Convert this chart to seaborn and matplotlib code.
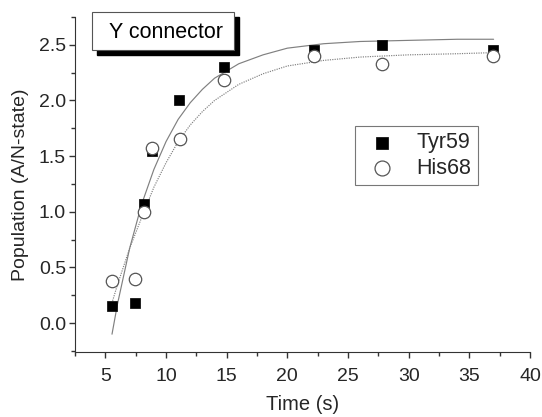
import numpy as np
import pandas as pd
import seaborn as sns
import matplotlib.pyplot as plt
from matplotlib.ticker import MultipleLocator
from matplotlib.patches import Rectangle

# measured points
tyr_t = [5.58, 7.44, 8.2, 8.85, 11.07, 14.76, 22.19, 27.77, 36.98]
tyr_y = [0.15, 0.18, 1.07, 1.55, 2.0, 2.3, 2.45, 2.5, 2.45]
his_t = [5.58, 7.44, 8.2, 8.85, 11.13, 14.82, 22.19, 27.77, 36.98]
his_y = [0.38, 0.40, 1.0, 1.57, 1.65, 2.18, 2.40, 2.33, 2.40]

# fit curves
fit_tyr_t = [5.55, 6, 7, 8, 9, 10, 11, 12, 13, 14, 16, 18, 20, 23, 26, 30, 34, 37]
fit_tyr_y = [-0.10, 0.17, 0.67, 1.07, 1.38, 1.63, 1.83, 1.98, 2.10, 2.20, 2.33, 2.41, 2.47, 2.51, 2.53, 2.54, 2.55, 2.55]
fit_his_t = [5.6, 6, 7, 8, 9, 10, 11, 12, 13, 14, 16, 18, 20, 23, 26, 30, 34, 37]
fit_his_y = [0.20, 0.345, 0.67, 0.95, 1.22, 1.44, 1.63, 1.78, 1.90, 2.00, 2.145, 2.24, 2.31, 2.36, 2.39, 2.41, 2.42, 2.43]

sns.set_style("ticks")
plt.rcParams['font.family'] = ['Liberation Sans', 'DejaVu Sans']

W, H = 542, 417
fig = plt.figure(figsize=(W / 100, H / 100), dpi=100)
ax = fig.add_axes([75 / W, 1 - 352 / H, 455 / W, 335 / H])

sns.lineplot(x=fit_tyr_t, y=fit_tyr_y, ax=ax, color='#808080', lw=0.85, sort=False)
sns.lineplot(x=fit_his_t, y=fit_his_y, ax=ax, color='#808080', lw=0.85, ls=(0, (1, 1)), sort=False)

sns.scatterplot(x=tyr_t, y=tyr_y, ax=ax, marker='s', s=45, color='black',
                edgecolor='black', linewidth=0.5, label='Tyr59', zorder=3)
sns.scatterplot(x=his_t, y=his_y, ax=ax, marker='o', s=80, color='white',
                edgecolor='#555555', linewidth=0.9, label='His68', zorder=4)

ax.set_xlim(2.5, 40)
ax.set_ylim(-0.26, 2.75)
ax.xaxis.set_major_locator(MultipleLocator(5))
ax.xaxis.set_minor_locator(MultipleLocator(2.5))
ax.yaxis.set_major_locator(MultipleLocator(0.5))
ax.yaxis.set_minor_locator(MultipleLocator(0.25))
ax.yaxis.set_major_formatter(plt.FuncFormatter(lambda v, p: f"{v:.1f}"))
ax.tick_params(which='major', length=4.5, width=1, labelsize=14, direction='out',
               color='#333333', pad=2)
ax.tick_params(axis='x', which='major', pad=7)
ax.tick_params(which='minor', length=3, width=1, direction='out', color='#333333')
sns.despine(ax=ax)
for sp in ['left', 'bottom']:
    ax.spines[sp].set_color('#333333')

ax.set_xlabel('Time (s)', fontsize=14.5, labelpad=7)
ax.set_ylabel('Population (A/N-state)', fontsize=14, labelpad=7)

leg = ax.legend(loc='upper left', bbox_to_anchor=(0.615, 0.675), borderaxespad=0,
                fontsize=15.5, frameon=True, fancybox=False, handletextpad=0.65,
                borderpad=0.3, labelspacing=0.2, handlelength=1.9, markerscale=1.2)
leg.get_frame().set_edgecolor('#555555')
leg.get_frame().set_linewidth(0.8)

# label box with drop shadow (figure pixels)
fig.add_artist(Rectangle((97 / W, 1 - 55 / H), 142 / W, 38 / H, transform=fig.transFigure,
                         fc='black', ec='black', zorder=5))
fig.add_artist(Rectangle((92 / W, 1 - 50 / H), 142 / W, 38 / H, transform=fig.transFigure,
                         fc='white', ec='#555555', lw=0.8, zorder=6))
fig.text(166 / W, 1 - 32 / H, 'Y connector', ha='center', va='center',
         fontsize=15.5, color='black', zorder=7)

plt.savefig('out.png', dpi=100)
